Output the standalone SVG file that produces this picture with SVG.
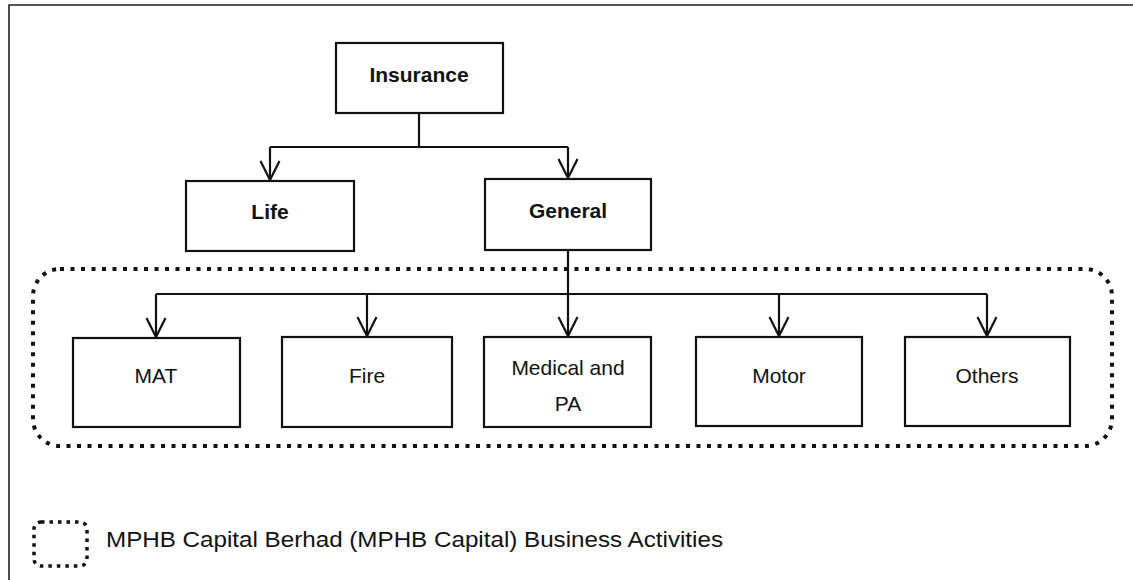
<svg xmlns="http://www.w3.org/2000/svg" width="1133" height="580" viewBox="0 0 1133 580">
  <defs>
    <!-- open V arrowhead, tip at the line end -->
    <marker id="vee" markerUnits="userSpaceOnUse" markerWidth="24" markerHeight="26" viewBox="-21 -13 24 26" refX="0" refY="0" orient="auto">
      <path d="M-19,-9.5 L0,0 L-19,9.5" fill="none" stroke="#111" stroke-width="2.2" stroke-linejoin="miter"/>
    </marker>
    <style>
      .box { fill: #fff; stroke: #111; stroke-width: 2.2; }
      .lbl { font-family: "Liberation Sans", Arial, sans-serif; font-size: 21px; fill: #111; text-anchor: middle; }
      .bold { font-weight: bold; }
      .wire { fill: none; stroke: #111; stroke-width: 2.2; }
      .arrow { fill: none; stroke: #111; stroke-width: 2.2; marker-end: url(#vee); }
      .dots { fill: none; stroke: #111; stroke-width: 4; stroke-dasharray: 4 6.5; }
    </style>
  </defs>

  <rect x="0" y="0" width="1133" height="580" fill="#fff"/>

  <!-- page frame (left and top edges) -->
  <path d="M9,580 L9,5 L1133,5" fill="none" stroke="#222" stroke-width="1.6"/>

  <!-- business activities boundary -->
  <rect id="boundary" class="dots" x="33" y="269" width="1079" height="177" rx="27" ry="27"/>

  <!-- connectors -->
  <g id="connectors">
    <path class="wire" d="M419,113 L419,147"/>
    <path class="wire" d="M270,147 L568,147"/>
    <path class="arrow" d="M270,147 L270,180"/>
    <path class="arrow" d="M568,147 L568,178"/>
    <path class="wire" d="M568,250 L568,294"/>
    <path class="wire" d="M156,294 L987,294"/>
    <path class="arrow" d="M156,294 L156,337"/>
    <path class="arrow" d="M367,294 L367,336"/>
    <path class="arrow" d="M568,294 L568,336"/>
    <path class="arrow" d="M779,294 L779,336"/>
    <path class="arrow" d="M987,294 L987,336"/>
  </g>

  <g id="insurance">
    <rect class="box" x="336" y="43" width="167" height="70"/>
    <text class="lbl bold" x="419" y="82">Insurance</text>
  </g>
  <g id="life">
    <rect class="box" x="186" y="181" width="168" height="70"/>
    <text class="lbl bold" x="270" y="219">Life</text>
  </g>
  <g id="general">
    <rect class="box" x="485" y="179" width="166" height="71"/>
    <text class="lbl bold" x="568" y="218">General</text>
  </g>
  <g id="mat">
    <rect class="box" x="73" y="338" width="167" height="89"/>
    <text class="lbl" x="156" y="383">MAT</text>
  </g>
  <g id="fire">
    <rect class="box" x="282" y="337" width="170" height="90"/>
    <text class="lbl" x="367" y="383">Fire</text>
  </g>
  <g id="medical-pa">
    <rect class="box" x="484" y="337" width="167" height="90"/>
    <text class="lbl" x="568" y="375">Medical and</text>
    <text class="lbl" x="568" y="411">PA</text>
  </g>
  <g id="motor">
    <rect class="box" x="696" y="337" width="166" height="89"/>
    <text class="lbl" x="779" y="383">Motor</text>
  </g>
  <g id="others">
    <rect class="box" x="905" y="337" width="165" height="89"/>
    <text class="lbl" x="987" y="383">Others</text>
  </g>

  <!-- legend -->
  <g id="legend">
    <rect class="dots" x="34" y="522" width="53" height="44" rx="7" ry="7" style="stroke-width:3.5;stroke-dasharray:3.5 5"/>
    <text x="106" y="547" font-family="Liberation Sans, Arial, sans-serif" font-size="22" fill="#111" textLength="617" lengthAdjust="spacingAndGlyphs">MPHB Capital Berhad (MPHB Capital) Business Activities</text>
  </g>
</svg>
